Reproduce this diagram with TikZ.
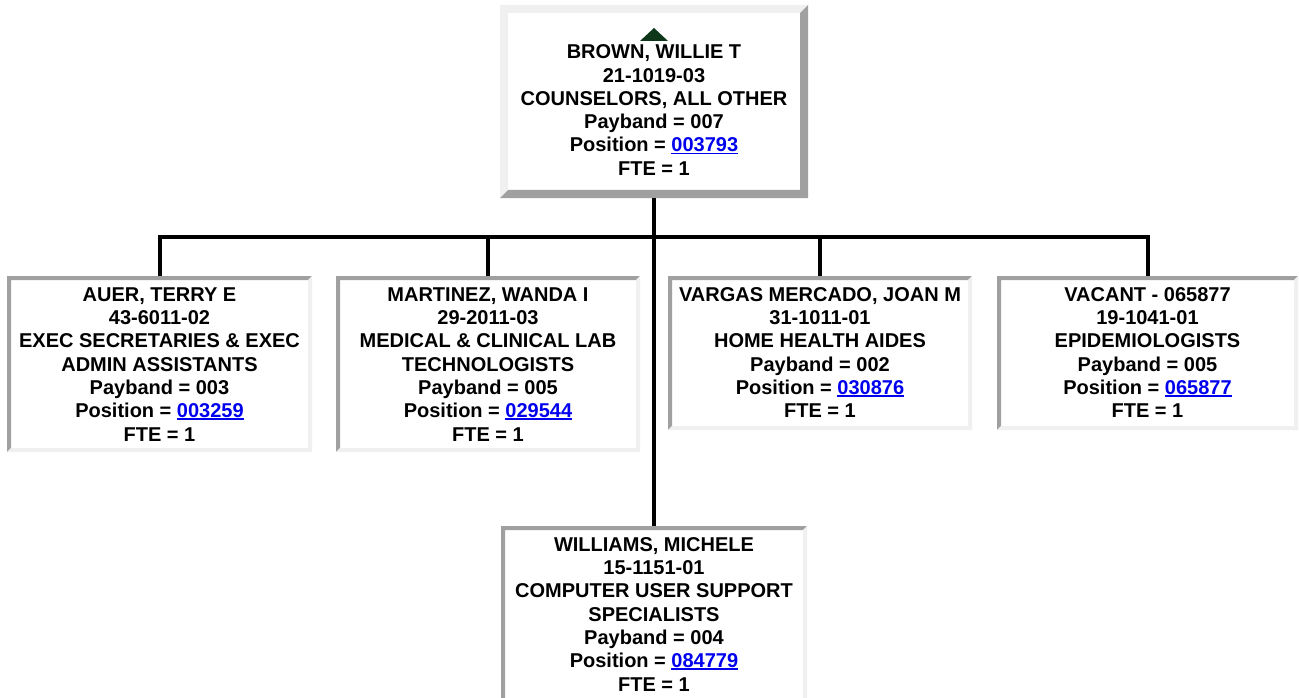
\documentclass[tikz,border=0pt]{standalone}
\usepackage{fontspec}
\setmainfont{Liberation Sans}
\definecolor{linkblue}{RGB}{0,0,238}
\definecolor{bevlight}{RGB}{240,240,240}
\definecolor{bevdark}{RGB}{160,160,160}
\definecolor{arrowgreen}{RGB}{14,54,24}
\newcommand\lnk[1]{{\color{linkblue}\setbox0\hbox{#1}\rlap{\rule[-2.3pt]{\wd0}{1.6pt}}\box0}}
\newcommand\fr{\rule{0pt}{15pt}}
\newcommand\bevbox[4]{%
  \fill[#3] (#1.north west) -- (#1.north east) -- ([xshift=-#2pt,yshift=-#2pt]#1.north east)
    -- ([xshift=#2pt,yshift=-#2pt]#1.north west) -- ([xshift=#2pt,yshift=#2pt]#1.south west)
    -- (#1.south west) -- cycle;
  \fill[#4] (#1.south east) -- (#1.north east) -- ([xshift=-#2pt,yshift=-#2pt]#1.north east)
    -- ([xshift=-#2pt,yshift=#2pt]#1.south east) -- ([xshift=#2pt,yshift=#2pt]#1.south west)
    -- (#1.south west) -- cycle;}
\begin{document}
\begin{tikzpicture}[x=1pt,y=-1pt,
  box/.style={rectangle,draw=none,fill=white,inner sep=0pt,outer sep=0pt,anchor=north west},
  txt/.style={anchor=north,align=center,inner sep=0pt,text=black,font=\fontsize{20}{23.3}\selectfont\bfseries},
  conn/.style={line width=4pt,black}]
\fill[white] (0,0) rectangle (1299,698);
\useasboundingbox (0,0) rectangle (1299,698);
% boxes
\node[box,minimum width=308pt,minimum height=193pt] (top) at (500,5) {};
\node[box,minimum width=305pt,minimum height=176pt] (c1) at (7,276) {};
\node[box,minimum width=304pt,minimum height=176pt] (c2) at (336,276) {};
\node[box,minimum width=304pt,minimum height=154pt] (c3) at (668,276) {};
\node[box,minimum width=301pt,minimum height=154pt] (c4) at (997,276) {};
\node[box,minimum width=306pt,minimum height=185pt] (bot) at (501,526) {};
\bevbox{top}{8}{bevlight}{bevdark}
\bevbox{c1}{4}{bevdark}{bevlight}
\bevbox{c2}{4}{bevdark}{bevlight}
\bevbox{c3}{4}{bevdark}{bevlight}
\bevbox{c4}{4}{bevdark}{bevlight}
\bevbox{bot}{4}{bevdark}{bevlight}
% connectors
\coordinate (bar) at (654,237);
\draw[conn] (top.south) -- (bot.north);
\draw[conn] (c1.north) |- (bar -| c4.north) -- (c4.north);
\draw[conn] (c2.north) -- (c2.north |- bar);
\draw[conn] (c3.north) -- (c3.north |- bar);
% up arrow
\fill[arrowgreen] (654,28) -- (668,41) -- (640,41) -- cycle;
% texts
\node[txt] (ttop) at (654,43.5) {\fr BROWN, WILLIE T\\21-1019-03\\COUNSELORS, ALL OTHER\\Payband = 007\\Position = \lnk{003793}\\FTE = 1};
\node[txt] (t1) at (159.5,286) {\fr AUER, TERRY E\\43-6011-02\\EXEC SECRETARIES \& EXEC\\ADMIN ASSISTANTS\\Payband = 003\\Position = \lnk{003259}\\FTE = 1};
\node[txt] (t2) at (488,286) {\fr MARTINEZ, WANDA I\\29-2011-03\\MEDICAL \& CLINICAL LAB\\TECHNOLOGISTS\\Payband = 005\\Position = \lnk{029544}\\FTE = 1};
\node[txt] (t3) at (820,286) {\fr VARGAS MERCADO, JOAN M\\31-1011-01\\HOME HEALTH AIDES\\Payband = 002\\Position = \lnk{030876}\\FTE = 1};
\node[txt] (t4) at (1147.5,286) {\fr VACANT - 065877\\19-1041-01\\EPIDEMIOLOGISTS\\Payband = 005\\Position = \lnk{065877}\\FTE = 1};
\node[txt] (tb) at (654,536) {\fr WILLIAMS, MICHELE\\15-1151-01\\COMPUTER USER SUPPORT\\SPECIALISTS\\Payband = 004\\Position = \lnk{084779}\\FTE = 1};
\end{tikzpicture}
\end{document}
